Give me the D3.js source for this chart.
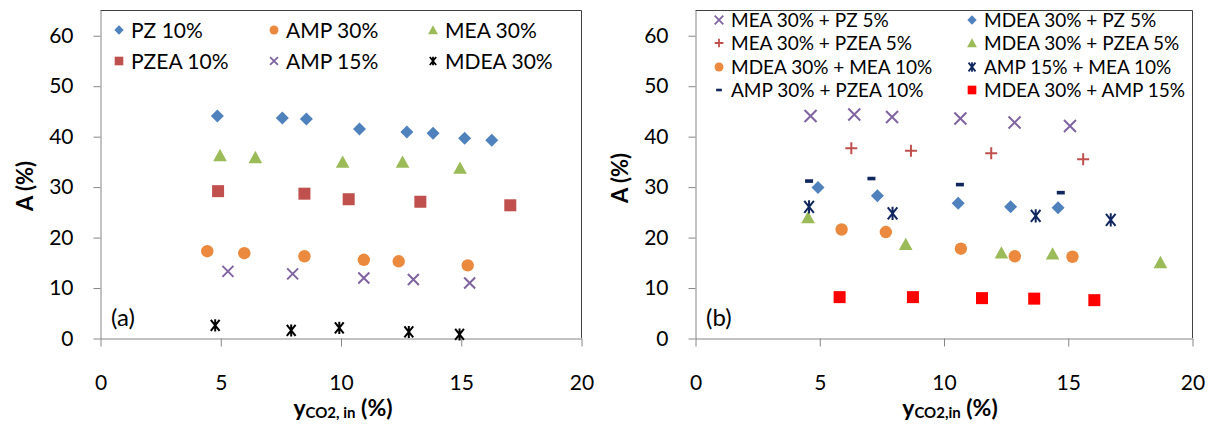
<!DOCTYPE html>
<html>
<head>
  <script src="https://d3js.org/d3.v7.min.js"></script>
  <style>
    body { margin: 0; background: #fff; }
    text { font-family: Lato, "Open Sans", sans-serif; fill: #000; }
  </style>
</head>
<body>
<div id="chart"></div>
<script>
// ---- panel (a): single amines ----
var pz10X   = [4.88, 7.58, 8.58, 10.79, 12.76, 13.85, 15.16, 16.29];
var pz10Y   = [44.0, 43.6, 43.4, 41.4, 40.8, 40.6, 39.6, 39.2];
var amp30X  = [4.46, 6.00, 8.50, 10.97, 12.42, 15.29];
var amp30Y  = [17.2, 16.8, 16.2, 15.5, 15.2, 14.4];
var mea30X  = [4.99, 6.46, 10.09, 12.58, 14.97];
var mea30Y  = [36.2, 35.8, 34.9, 34.9, 33.7];
var pzea10X = [4.91, 8.50, 10.34, 13.32, 17.06];
var pzea10Y = [29.1, 28.6, 27.5, 27.0, 26.3];
var amp15X  = [5.32, 8.01, 10.97, 13.03, 15.37];
var amp15Y  = [13.2, 12.7, 11.9, 11.6, 10.9];
var mdea30X = [4.79, 7.95, 9.95, 12.84, 14.95];
var mdea30Y = [2.5, 1.5, 2.0, 1.2, 0.7];

// ---- panel (b): blends ----
var meaPzX    = [4.65, 6.41, 7.93, 10.68, 12.86, 15.09];
var meaPzY    = [44.0, 44.3, 43.8, 43.5, 42.7, 42.0];
var meaPzeaX  = [6.29, 8.69, 11.92, 15.62];
var meaPzeaY  = [37.6, 37.1, 36.6, 35.4];
var mdeaMeaX  = [5.90, 7.68, 10.70, 12.87, 15.19];
var mdeaMeaY  = [21.5, 21.0, 17.7, 16.2, 16.1];
var ampPzeaX  = [4.59, 7.10, 10.66, 14.72];
var ampPzeaY  = [31.1, 31.6, 30.4, 28.8];
var mdeaPzX   = [4.95, 7.34, 10.59, 12.70, 14.61];
var mdeaPzY   = [29.8, 28.2, 26.7, 26.0, 25.8];
var mdeaPzeaX = [4.55, 8.48, 12.33, 14.39, 18.73];
var mdeaPzeaY = [23.9, 18.6, 16.9, 16.7, 15.0];
var ampMeaX   = [4.59, 7.95, 13.71, 16.73];
var ampMeaY   = [26.0, 24.7, 24.2, 23.4];
var mdeaAmpX  = [5.82, 8.77, 11.55, 13.65, 16.07];
var mdeaAmpY  = [8.1, 8.1, 7.9, 7.8, 7.5];

var xTicks = [0, 5, 10, 15, 20];
var yTicks = [0, 10, 20, 30, 40, 50, 60];

// custom marker shapes, r = sqrt(size)/2
function shape(fn) { return { draw: function(ctx, size) { fn(ctx, Math.sqrt(size) / 2); } }; }
var mDiamond = shape(function(c, r) { c.moveTo(0, -r); c.lineTo(r, 0); c.lineTo(0, r); c.lineTo(-r, 0); c.closePath(); });
var mSquare  = shape(function(c, r) { c.rect(-r, -r, 2 * r, 2 * r); });
var mCircle  = shape(function(c, r) { c.moveTo(r, 0); c.arc(0, 0, r, 0, 2 * Math.PI); });
var mTri     = shape(function(c, r) { c.moveTo(0, -r); c.lineTo(r * 1.05, r * 0.9); c.lineTo(-r * 1.05, r * 0.9); c.closePath(); });
var mX       = shape(function(c, r) { c.moveTo(-r, -r); c.lineTo(r, r); c.moveTo(r, -r); c.lineTo(-r, r); });
var mStar    = shape(function(c, r) { c.moveTo(-r * 0.8, -r); c.lineTo(r * 0.8, r); c.moveTo(r * 0.8, -r); c.lineTo(-r * 0.8, r); c.moveTo(0, -r * 1.1); c.lineTo(0, r * 1.1); });
var mPlus    = shape(function(c, r) { c.moveTo(-r, 0); c.lineTo(r, 0); c.moveTo(0, -r); c.lineTo(0, r); });
var mDash    = shape(function(c, r) { c.rect(-r, -r * 0.45, 2 * r, r * 0.9); });

var seriesA = [
  {name: "PZ 10%",   xs: pz10X,   ys: pz10Y,   type: mDiamond, color: "#4F81BD", fill: true,  r: 6.5, lx: 119, ly: 30},
  {name: "AMP 30%",  xs: amp30X,  ys: amp30Y,  type: mCircle,  color: "#EB8A3E", fill: true,  r: 6.2, lx: 274, ly: 30},
  {name: "MEA 30%",  xs: mea30X,  ys: mea30Y,  type: mTri,     color: "#9BBB59", fill: true,  r: 6.5, lx: 433, ly: 30},
  {name: "PZEA 10%", xs: pzea10X, ys: pzea10Y, type: mSquare,  color: "#C0504D", fill: true,  r: 6,   lx: 119, ly: 61},
  {name: "AMP 15%",  xs: amp15X,  ys: amp15Y,  type: mX,       color: "#8064A2", fill: false, r: 5.5, lx: 274, ly: 61},
  {name: "MDEA 30%", xs: mdea30X, ys: mdea30Y, type: mStar,    color: "#000000", fill: false, r: 5.5, lx: 433, ly: 61}
];

var seriesB = [
  {name: "MEA 30% + PZ 5%",      xs: meaPzX,    ys: meaPzY,    type: mX,       color: "#8064A2", fill: false, r: 6,   lx: 719, ly: 20},
  {name: "MEA 30% + PZEA 5%",    xs: meaPzeaX,  ys: meaPzeaY,  type: mPlus,    color: "#C0504D", fill: false, r: 6,   lx: 719, ly: 43},
  {name: "MDEA 30% + MEA 10%",   xs: mdeaMeaX,  ys: mdeaMeaY,  type: mCircle,  color: "#EB8A3E", fill: true,  r: 6.2, lx: 719, ly: 67},
  {name: "AMP 30% + PZEA 10%",   xs: ampPzeaX,  ys: ampPzeaY,  type: mDash,    color: "#10265E", fill: true,  r: 4,   lx: 719, ly: 90},
  {name: "MDEA 30% + PZ 5%",     xs: mdeaPzX,   ys: mdeaPzY,   type: mDiamond, color: "#4F81BD", fill: true,  r: 6.5, lx: 972, ly: 20},
  {name: "MDEA 30% + PZEA 5%",   xs: mdeaPzeaX, ys: mdeaPzeaY, type: mTri,     color: "#9BBB59", fill: true,  r: 6.5, lx: 972, ly: 43},
  {name: "AMP 15% + MEA 10%",    xs: ampMeaX,   ys: ampMeaY,   type: mStar,    color: "#10265E", fill: false, r: 6,   lx: 972, ly: 67},
  {name: "MDEA 30% + AMP 15%",   xs: mdeaAmpX,  ys: mdeaAmpY,  type: mSquare,  color: "#FF0000", fill: true,  r: 6,   lx: 972, ly: 90}
];

var svg = d3.select("#chart").append("svg")
  .attr("width", 1216).attr("height", 424);

function drawPanel(opt) {
  var x = d3.scaleLinear().domain([0, 20]).range([opt.x0, opt.x1]);
  var y = d3.scaleLinear().domain([0, 65]).range([338, 10]);
  var g = svg.append("g");

  // plot border (top + right)
  g.append("path")
    .attr("d", "M" + (opt.x0 + 0.5) + ",10.5H" + (opt.x1 + 0.5) + "V338")
    .attr("fill", "none").attr("stroke", "#404040").attr("stroke-width", 1);

  var yAx = g.append("g").attr("transform", "translate(" + (opt.x0 + 0.5) + ",0.5)")
    .call(d3.axisLeft(y).tickValues(yTicks).tickSize(7).tickSizeOuter(0).tickPadding(20).tickFormat(d3.format("d")));
  var xAx = g.append("g").attr("transform", "translate(0.5," + 338.5 + ")")
    .call(d3.axisBottom(x).tickValues(xTicks).tickSize(8).tickSizeOuter(0).tickPadding(29).tickFormat(d3.format("d")));
  [yAx, xAx].forEach(function(a) {
    a.select(".domain").attr("stroke", "#868686");
    a.selectAll(".tick line").attr("stroke", "#868686");
    a.selectAll(".tick text").attr("font-family", "Lato").attr("font-size", 21).attr("fill", "#000");
  });

  // axis titles
  g.append("text").attr("transform", "translate(" + opt.ytx + "," + opt.yty + ") rotate(-90)")
    .attr("text-anchor", "middle").attr("dy", "0.35em")
    .attr("font-weight", "bold").attr("font-size", 22).text("A (%)");
  var xt = g.append("text").attr("x", opt.xtx).attr("y", 416)
    .attr("text-anchor", "middle").attr("font-weight", "bold").attr("font-size", 23);
  xt.append("tspan").text("y");
  xt.append("tspan").attr("font-size", 15).attr("dy", 2).text(opt.sub);
  xt.append("tspan").attr("dy", -2).text(" (%)");

  g.append("text").attr("x", opt.x0 + 11).attr("y", 318).attr("dy", "0.35em")
    .attr("font-size", 24).text(opt.tag);

  // points
  opt.series.forEach(function(s) {
    var pts = s.xs.map(function(v, i) { return [v, s.ys[i]]; });
    g.append("g").selectAll("path").data(pts).enter().append("path")
      .attr("transform", function(d) { return "translate(" + x(d[0]) + "," + y(d[1]) + ")"; })
      .attr("d", d3.symbol().type(s.type).size(4 * s.r * s.r))
      .attr("fill", s.fill ? s.color : "none")
      .attr("stroke", s.fill ? "none" : s.color)
      .attr("stroke-width", 2);

    // legend entry
    var lr = s.r * 0.72;
    g.append("path")
      .attr("transform", "translate(" + s.lx + "," + s.ly + ")")
      .attr("d", d3.symbol().type(s.type).size(4 * lr * lr))
      .attr("fill", s.fill ? s.color : "none")
      .attr("stroke", s.fill ? "none" : s.color)
      .attr("stroke-width", 1.8);
    g.append("text").attr("x", s.lx + 12).attr("y", s.ly).attr("dy", "0.36em")
      .attr("font-size", opt.legendSize).text(s.name);
  });
}

drawPanel({x0: 100, x1: 581, series: seriesA, ytx: 25, yty: 186, xtx: 343, sub: "CO2, in", tag: "(a)", legendSize: 21});
drawPanel({x0: 695, x1: 1192, series: seriesB, ytx: 620, yty: 178, xtx: 950, sub: "CO2,in", tag: "(b)", legendSize: 19});
</script>
</body>
</html>
